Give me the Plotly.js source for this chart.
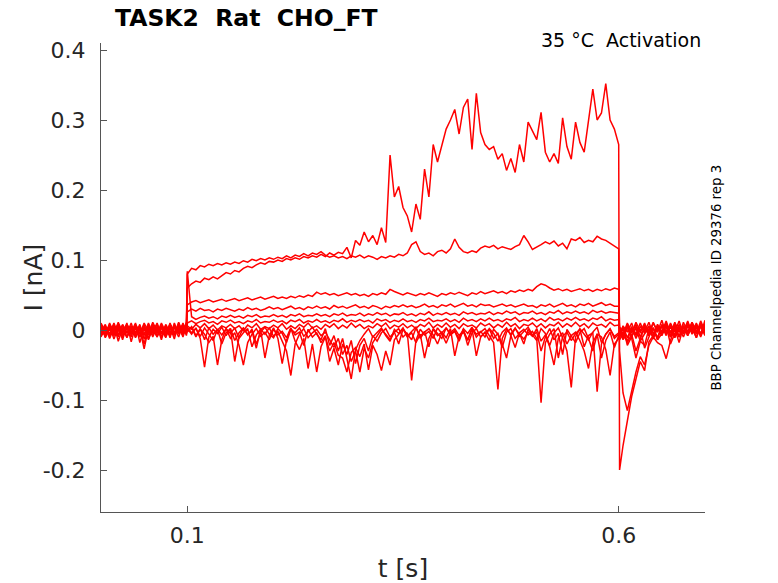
<!DOCTYPE html>
<html>
<head>
<meta charset="utf-8">
<script src="https://cdn.plot.ly/plotly-3.0.1.min.js"></script>
<style>html,body{margin:0;padding:0;background:#fff}#chart{width:778px;height:583px}</style>
</head>
<body>
<div id="chart"></div>
<script>
// sample times [s]: before the pulse, during the pulse, after the pulse
const t_pre = [0,0.005,0.01,0.015,0.02,0.025,0.03,0.035,0.04,0.045,0.05,0.055,0.06,0.065,0.07,0.075,0.08,0.085,0.09,0.095,0.099];
const t_on = [0.1,0.105,0.11,0.115,0.12,0.125,0.13,0.135,0.14,0.145,
0.15,0.155,0.16,0.165,0.17,0.175,0.18,0.185,0.19,0.195,
0.2,0.205,0.21,0.215,0.22,0.225,0.23,0.235,0.24,0.245,
0.25,0.255,0.26,0.265,0.27,0.275,0.28,0.285,0.29,0.295,
0.3,0.305,0.31,0.315,0.32,0.325,0.33,0.335,0.34,0.345,
0.35,0.355,0.36,0.365,0.37,0.375,0.38,0.385,0.39,0.395,
0.4,0.405,0.41,0.415,0.42,0.425,0.43,0.435,0.44,0.445,
0.45,0.455,0.46,0.465,0.47,0.475,0.48,0.485,0.49,0.495,
0.5,0.505,0.51,0.515,0.52,0.525,0.53,0.535,0.54,0.545,
0.55,0.555,0.56,0.565,0.57,0.575,0.58,0.585,0.59,0.595,0.6];
const t_post = [0.601,0.605,0.61,0.615,0.62,0.625,0.63,0.635,0.64,0.645,0.65,0.655,0.66,0.665,0.67,0.675,0.68,0.685,0.69,0.695,0.7];

// current [nA] per sweep
const A_pre = [0.005,-0.006,0.008,-0.003,0.009,-0.008,0.003,-0.005,0.007,-0.010,0.002,-0.007,0.008,-0.003,0.005,-0.008,0.010,-0.005,0.003,-0.006,0.005];
const A_on = [0.060,0.066,0.070,0.068,0.074,0.072,0.076,0.073,0.078,0.082,
0.080,0.085,0.083,0.088,0.091,0.089,0.093,0.096,0.094,0.098,
0.097,0.100,0.098,0.102,0.100,0.103,0.101,0.105,0.103,0.106,
0.104,0.108,0.105,0.110,0.107,0.111,0.109,0.118,0.103,0.128,
0.121,0.140,0.126,0.135,0.122,0.146,0.125,0.250,0.190,0.205,
0.175,0.163,0.140,0.180,0.158,0.230,0.190,0.265,0.240,0.263,
0.287,0.300,0.315,0.280,0.318,0.330,0.258,0.338,0.282,0.265,
0.258,0.262,0.244,0.252,0.228,0.245,0.225,0.265,0.240,0.297,
0.285,0.272,0.311,0.254,0.240,0.252,0.238,0.303,0.262,0.244,
0.297,0.268,0.254,0.300,0.344,0.300,0.310,0.352,0.300,0.287,0.265];
const A_post = [-0.200,-0.165,-0.130,-0.095,-0.070,-0.045,-0.058,-0.017,-0.008,0.005,-0.006,0.008,-0.005,0.010,-0.003,0.006,-0.008,0.011,-0.002,0.008,-0.005];

const B_pre = [-0.003,0.008,-0.010,0.005,-0.002,0.007,-0.011,0.003,-0.005,0.008,-0.013,0.005,-0.003,0.010,-0.006,0.003,-0.008,0.007,-0.002,0.008,-0.003];
const B_on = [0.080,0.088,0.086,0.092,0.090,0.094,0.092,0.095,0.093,0.096,
0.094,0.097,0.095,0.099,0.097,0.101,0.099,0.102,0.100,0.103,
0.101,0.104,0.102,0.106,0.103,0.107,0.105,0.109,0.106,0.110,
0.108,0.112,0.107,0.104,0.106,0.103,0.105,0.102,0.106,0.104,
0.107,0.103,0.106,0.104,0.101,0.105,0.103,0.106,0.104,0.108,
0.106,0.110,0.122,0.126,0.112,0.108,0.110,0.106,0.112,0.114,
0.110,0.116,0.130,0.118,0.112,0.110,0.113,0.111,0.117,0.120,
0.118,0.121,0.116,0.119,0.117,0.115,0.119,0.122,0.135,0.126,
0.115,0.118,0.122,0.126,0.123,0.127,0.120,0.124,0.116,0.130,
0.128,0.132,0.125,0.128,0.126,0.134,0.130,0.128,0.124,0.121,0.116];
const B_post = [-0.030,-0.090,-0.115,-0.085,-0.060,-0.038,-0.050,-0.022,-0.010,0.005,-0.006,0.010,-0.003,0.008,-0.010,0.005,-0.002,0.011,-0.006,0.006,-0.003];

const C_pre = [0.007,-0.010,0.003,-0.006,0.011,-0.003,0.005,-0.010,0.008,-0.002,0.003,-0.011,0.006,-0.005,0.010,-0.003,0.002,-0.008,0.011,-0.005,0.006];
const C_on = [0.036,0.040,0.042,0.039,0.041,0.043,0.040,0.042,0.044,0.041,
0.043,0.045,0.042,0.044,0.046,0.043,0.045,0.047,0.044,0.046,
0.048,0.045,0.047,0.045,0.048,0.046,0.049,0.047,0.050,0.048,
0.054,0.051,0.053,0.050,0.052,0.049,0.051,0.053,0.050,0.052,
0.049,0.051,0.048,0.052,0.050,0.053,0.051,0.058,0.055,0.052,
0.050,0.053,0.051,0.049,0.052,0.050,0.053,0.051,0.048,0.052,
0.050,0.053,0.051,0.054,0.052,0.049,0.053,0.051,0.055,0.052,
0.054,0.056,0.053,0.055,0.052,0.056,0.054,0.057,0.055,0.058,
0.056,0.062,0.066,0.064,0.060,0.057,0.059,0.056,0.058,0.055,
0.057,0.059,0.056,0.058,0.055,0.058,0.056,0.059,0.057,0.060,0.058];
const C_post = [0.005,-0.006,0.010,-0.003,0.008,-0.010,0.003,-0.005,0.011,-0.002,0.006,-0.008,0.010,-0.003,0.013,-0.005,0.008,-0.002,0.010,-0.006,0.014];

const D_pre = [-0.008,0.003,-0.005,0.010,-0.006,0.002,-0.010,0.006,-0.003,0.005,-0.008,0.010,-0.005,0.003,-0.010,0.008,-0.003,0.005,-0.006,0.010,-0.002];
const D_on = [0.026,0.030,0.027,0.031,0.028,0.029,0.026,0.030,0.028,0.031,
0.029,0.027,0.030,0.028,0.032,0.029,0.031,0.028,0.030,0.033,
0.030,0.032,0.029,0.031,0.034,0.030,0.032,0.029,0.033,0.031,
0.034,0.031,0.033,0.030,0.035,0.032,0.034,0.031,0.033,0.036,
0.032,0.034,0.031,0.035,0.033,0.030,0.034,0.032,0.035,0.033,
0.036,0.033,0.035,0.032,0.034,0.037,0.033,0.035,0.032,0.036,
0.034,0.037,0.033,0.035,0.038,0.034,0.036,0.033,0.037,0.035,
0.036,0.033,0.035,0.037,0.034,0.036,0.033,0.035,0.037,0.034,
0.035,0.032,0.036,0.034,0.037,0.033,0.035,0.038,0.034,0.036,
0.033,0.037,0.035,0.038,0.034,0.036,0.039,0.035,0.037,0.034,0.034];
const D_post = [-0.012,0.006,-0.003,0.010,-0.008,0.005,-0.002,0.011,-0.006,0.008,-0.003,0.013,-0.005,0.006,-0.010,0.011,-0.003,0.008,-0.005,0.013,-0.002];

const E_pre = [0.010,-0.002,0.006,-0.008,0.003,-0.011,0.008,-0.003,0.005,-0.006,0.010,-0.002,0.003,-0.010,0.006,-0.005,0.008,-0.003,0.006,-0.008,0.012];
const E_on = [0.084,0.019,0.015,0.018,0.020,0.017,0.019,0.016,0.020,0.018,
0.021,0.018,0.020,0.017,0.021,0.019,0.022,0.018,0.020,0.019,
0.022,0.019,0.021,0.018,0.022,0.020,0.023,0.019,0.021,0.020,
0.023,0.020,0.022,0.019,0.023,0.021,0.024,0.020,0.022,0.021,
0.024,0.020,0.023,0.021,0.025,0.022,0.024,0.020,0.023,0.022,
0.025,0.021,0.023,0.020,0.024,0.022,0.026,0.021,0.024,0.022,
0.025,0.022,0.024,0.021,0.026,0.023,0.025,0.022,0.024,0.023,
0.026,0.022,0.025,0.023,0.027,0.024,0.026,0.022,0.025,0.024,
0.027,0.023,0.025,0.022,0.026,0.024,0.028,0.023,0.026,0.024,
0.027,0.024,0.026,0.023,0.028,0.025,0.027,0.024,0.026,0.025,0.024];
const E_post = [0.003,-0.010,0.008,-0.005,0.011,-0.002,0.006,-0.008,0.010,-0.003,0.014,-0.006,0.005,-0.010,0.008,-0.002,0.011,-0.005,0.006,-0.008,0.010];

const F_pre = [-0.005,0.006,-0.008,0.002,-0.010,0.008,-0.003,0.005,-0.011,0.003,-0.006,0.008,-0.010,0.005,-0.003,0.006,-0.011,0.010,-0.005,0.003,-0.006];
const F_on = [0.010,0.013,0.009,0.012,0.014,0.010,0.012,0.008,0.013,0.011,
0.014,0.010,0.012,0.009,0.013,0.011,0.015,0.010,0.012,0.011,
0.014,0.011,0.013,0.009,0.014,0.012,0.015,0.010,0.013,0.011,
0.015,0.011,0.013,0.010,0.014,0.012,0.016,0.011,0.014,0.012,
0.015,0.012,0.014,0.010,0.016,0.013,0.015,0.011,0.014,0.012,
0.016,0.012,0.014,0.011,0.015,0.013,0.017,0.012,0.014,0.013,
0.016,0.012,0.015,0.011,0.017,0.013,0.015,0.012,0.016,0.013,
0.017,0.013,0.015,0.012,0.016,0.014,0.018,0.012,0.015,0.013,
0.017,0.013,0.016,0.012,0.018,0.014,0.016,0.013,0.017,0.014,
0.018,0.014,0.016,0.013,0.017,0.015,0.019,0.013,0.016,0.014,0.015];
const F_post = [-0.006,0.005,-0.011,0.003,-0.006,0.010,-0.005,0.006,-0.013,0.005,-0.003,0.008,-0.010,0.011,-0.003,0.006,-0.008,0.005,-0.011,0.010,-0.003];

const G_pre = [0.003,-0.008,0.010,-0.005,0.006,-0.003,0.008,-0.006,0.002,-0.010,0.006,-0.005,0.011,-0.002,0.005,-0.010,0.003,-0.006,0.008,-0.003,0.010];
const G_on = [0.006,0.001,0.008,0.003,0.009,0.002,0.007,0.000,0.006,0.003,
0.008,0.002,0.006,-0.001,0.007,0.003,0.009,0.001,0.005,0.002,
0.007,0.003,0.009,0.001,0.006,0.002,0.008,0.004,0.010,0.003,
0.006,0.001,0.008,0.004,0.009,0.002,0.007,0.003,0.010,0.004,
0.008,0.002,0.006,0.003,0.009,0.005,0.010,0.002,0.007,0.004,
0.009,0.003,0.007,0.002,0.008,0.005,0.011,0.003,0.008,0.004,
0.010,0.004,0.008,0.002,0.009,0.005,0.007,0.003,0.010,0.006,
0.009,0.003,0.008,0.004,0.011,0.005,0.009,0.002,0.008,0.006,
0.010,0.004,0.009,0.003,0.008,0.006,0.011,0.004,0.009,0.005,
0.011,0.005,0.009,0.003,0.010,0.006,0.008,0.004,0.011,0.006,0.007];
const G_post = [0.002,-0.014,0.006,-0.010,0.005,-0.003,0.010,-0.006,0.003,-0.011,0.008,-0.002,0.006,-0.010,0.005,-0.003,0.013,-0.006,0.003,-0.005,0.008];

const N1_pre = [-0.006,0.005,-0.012,0.003,-0.008,0.006,-0.005,0.010,-0.010,0.002,-0.027,0.003,-0.008,0.005,-0.014,0.006,-0.005,0.003,-0.010,0.008,-0.005];
const N1_on = [0.002,-0.006,0.003,-0.012,-0.053,-0.010,0.001,-0.005,0.004,-0.008,
0.002,-0.015,-0.004,0.003,-0.007,0.001,-0.020,-0.003,0.004,-0.006,
-0.011,0.002,-0.005,-0.018,0.001,-0.004,0.003,-0.009,-0.002,0.004,
-0.006,-0.014,0.002,-0.022,-0.008,-0.030,-0.012,-0.040,-0.070,-0.028,
-0.015,-0.006,0.002,-0.010,-0.004,0.003,-0.008,-0.016,0.001,-0.005,
0.003,-0.009,-0.002,0.004,-0.012,-0.003,0.002,-0.007,-0.020,-0.004,
0.003,-0.006,-0.001,-0.013,0.002,-0.005,0.004,-0.010,-0.003,0.002,
-0.008,-0.018,-0.085,-0.012,0.001,-0.006,0.003,-0.009,-0.002,0.004,
-0.007,-0.015,0.002,-0.005,-0.022,-0.004,0.003,-0.011,-0.030,-0.082,
-0.010,0.002,-0.006,-0.014,-0.003,0.004,-0.018,-0.006,0.001,-0.009,-0.004];
const N1_post = [-0.010,0.003,-0.018,-0.006,-0.030,-0.012,0.005,-0.008,0.003,-0.014,0.006,-0.005,0.008,-0.011,0.003,-0.006,0.010,-0.003,0.005,-0.010,0.006];

const N2_pre = [0.008,-0.011,0.002,-0.006,0.005,-0.014,0.006,-0.003,0.010,-0.018,0.003,-0.013,0.005,-0.008,0.003,-0.011,0.008,-0.006,0.005,-0.010,0.006];
const N2_on = [-0.003,0.004,-0.010,0.001,-0.006,-0.018,-0.009,-0.050,-0.014,0.002,
-0.005,0.003,-0.012,-0.004,0.002,-0.024,-0.007,0.001,-0.006,0.003,
-0.009,-0.002,-0.016,-0.030,-0.065,-0.020,-0.006,0.002,-0.011,-0.004,
0.001,-0.008,-0.003,-0.015,-0.025,-0.012,-0.035,-0.022,-0.045,-0.030,
-0.060,-0.026,-0.040,-0.018,-0.008,0.001,-0.006,-0.014,-0.003,0.002,
-0.010,-0.004,-0.072,-0.015,0.001,-0.007,-0.002,-0.012,0.003,-0.005,
-0.019,-0.004,0.002,-0.008,-0.001,-0.014,0.003,-0.006,-0.002,-0.010,
0.002,-0.005,-0.016,-0.003,0.003,-0.008,-0.025,-0.004,0.001,-0.007,
-0.002,-0.012,-0.104,-0.018,-0.006,0.002,-0.040,-0.009,-0.003,-0.015,
-0.005,0.001,-0.024,-0.008,-0.004,-0.088,-0.020,-0.006,0.002,-0.012,-0.006];
const N2_post = [-0.014,-0.006,0.003,-0.012,-0.040,-0.016,-0.022,0.002,-0.010,-0.018,-0.022,-0.041,-0.015,0.003,-0.010,0.005,-0.006,0.008,-0.003,0.006,-0.005];

const N3_pre = [-0.010,0.002,-0.006,0.008,-0.016,0.003,-0.010,0.005,-0.006,0.003,-0.020,0.006,-0.003,0.008,-0.010,0.002,-0.008,0.006,-0.003,0.005,-0.008];
const N3_on = [0.004,-0.004,0.002,-0.009,0.003,-0.006,-0.015,0.001,-0.007,0.002,
-0.012,-0.004,-0.022,-0.050,-0.018,-0.006,0.002,-0.009,-0.003,-0.014,
0.001,-0.007,-0.002,-0.011,0.003,-0.016,-0.028,-0.012,-0.055,-0.020,
-0.060,-0.024,-0.010,-0.030,-0.018,-0.036,-0.040,-0.060,-0.032,-0.025,
-0.038,-0.020,-0.057,-0.022,-0.035,-0.058,-0.030,-0.050,-0.014,-0.006,
0.002,-0.010,-0.004,-0.018,-0.006,-0.040,-0.012,0.001,-0.008,-0.003,
-0.011,0.002,-0.037,-0.009,-0.003,-0.015,0.002,-0.037,-0.010,-0.004,
0.001,-0.012,-0.005,-0.020,-0.040,-0.008,0.002,-0.006,-0.013,-0.003,
-0.009,0.002,-0.016,-0.007,-0.024,-0.050,-0.012,-0.004,-0.020,-0.008,
-0.003,-0.015,-0.030,-0.055,-0.018,-0.006,-0.010,-0.028,-0.065,-0.020,-0.012];
const N3_post = [-0.006,0.005,-0.022,-0.010,0.003,-0.016,-0.006,0.005,-0.011,0.003,-0.008,0.006,-0.020,-0.005,0.003,-0.010,0.005,-0.002,0.008,-0.006,0.003];

const N4_pre = [0.002,-0.008,0.006,-0.013,0.003,-0.005,0.010,-0.017,0.005,-0.006,0.008,-0.014,0.003,-0.010,0.006,-0.003,0.005,-0.013,0.010,-0.006,0.003];
const N4_on = [-0.002,0.005,-0.008,0.002,-0.014,0.003,-0.006,0.001,-0.020,-0.004,
0.002,-0.045,-0.010,0.003,-0.006,-0.002,-0.026,0.001,-0.040,-0.008,
0.003,-0.012,-0.048,-0.015,0.002,-0.007,-0.003,-0.022,0.001,-0.010,
-0.004,-0.018,-0.008,-0.045,-0.026,-0.050,-0.020,-0.035,-0.015,-0.048,
-0.022,-0.012,-0.030,-0.008,-0.016,-0.004,0.002,-0.010,-0.003,-0.020,
0.001,-0.006,-0.014,0.003,-0.009,-0.002,-0.024,0.002,-0.005,-0.012,
0.003,-0.007,-0.002,-0.016,0.001,-0.022,-0.004,0.002,-0.010,-0.003,
-0.015,0.001,-0.006,-0.025,-0.003,0.002,-0.012,-0.005,-0.020,0.001,
-0.008,-0.003,-0.030,-0.010,0.002,-0.014,-0.005,-0.035,0.001,-0.009,
-0.018,-0.004,0.002,-0.012,-0.030,-0.006,-0.040,-0.015,-0.003,-0.025,-0.008];
const N4_post = [0.003,-0.008,-0.016,0.005,-0.012,0.002,-0.026,-0.010,0.003,-0.014,-0.005,0.006,-0.010,0.002,-0.018,0.005,-0.006,0.003,-0.011,0.005,-0.008];

const xTicks = [0.1, 0.6];
const xTickText = ['0.1', '0.6'];
const yTicks = [-0.2, -0.1, 0, 0.1, 0.2, 0.3, 0.4];
const yTickText = ['-0.2', '-0.1', '0', '0.1', '0.2', '0.3', '0.4'];

const tAll = t_pre.concat(t_on, t_post);
const sweeps = [
  [N4_pre, N4_on, N4_post], [N3_pre, N3_on, N3_post], [N2_pre, N2_on, N2_post], [N1_pre, N1_on, N1_post],
  [G_pre, G_on, G_post], [F_pre, F_on, F_post], [E_pre, E_on, E_post], [D_pre, D_on, D_post],
  [C_pre, C_on, C_post], [B_pre, B_on, B_post], [A_pre, A_on, A_post]
];
const traces = sweeps.map(s => ({
  x: tAll, y: s[0].concat(s[1], s[2]), type: 'scatter', mode: 'lines',
  line: {color: '#ff0000', width: 1.5}, hoverinfo: 'skip'
}));

const font = 'DejaVu Sans, sans-serif';
const layout = {
  width: 778, height: 583,
  margin: {l: 101, r: 73, t: 43, b: 71, pad: 0},
  paper_bgcolor: '#ffffff', plot_bgcolor: '#ffffff',
  showlegend: false, hovermode: false,
  title: {text: '<b>TASK2\u00a0\u00a0Rat\u00a0\u00a0CHO_FT</b>', xref: 'container', yref: 'container',
          x: 115/778, xanchor: 'left', y: 1 - 18/583, yanchor: 'middle',
          font: {family: font, size: 23.5, color: '#000000'}},
  xaxis: {range: [0, 0.7], tickvals: xTicks, ticktext: xTickText, ticks: 'inside', ticklen: 6,
          tickcolor: '#555555', showline: true, linecolor: '#555555', linewidth: 1,
          showgrid: false, zeroline: false, ticklabelstandoff: 4,
          tickfont: {family: font, size: 22, color: '#262626'},
          title: {text: 't [s]', standoff: 16, font: {family: font, size: 25, color: '#262626'}}},
  yaxis: {range: [-0.26, 0.41], tickvals: yTicks, ticktext: yTickText, ticks: 'inside', ticklen: 6,
          tickcolor: '#555555', showline: true, linecolor: '#555555', linewidth: 1,
          showgrid: false, zeroline: false, ticklabelstandoff: 10,
          tickfont: {family: font, size: 22, color: '#262626'}},
  annotations: [
    {text: 'I [nA]', xref: 'paper', yref: 'paper', x: (33-101)/604, y: 0.5,
     xanchor: 'center', yanchor: 'middle', textangle: -90, showarrow: false,
     font: {family: font, size: 25, color: '#262626'}},
    {text: '35 °C\u00a0\u00a0Activation', xref: 'paper', yref: 'paper', x: (703-101)/604, y: 1 + 3/469,
     xanchor: 'right', yanchor: 'middle', showarrow: false, font: {family: font, size: 19, color: '#000000'}},
    {text: 'BBP Channelpedia ID 29376 rep 3', xref: 'paper', yref: 'paper', x: (716-101)/604, y: 0.5,
     xanchor: 'center', yanchor: 'middle', textangle: -90, showarrow: false,
     font: {family: font, size: 13.3, color: '#000000'}}
  ]
};
Plotly.newPlot('chart', traces, layout, {staticPlot: true, displayModeBar: false});
</script>
</body>
</html>
